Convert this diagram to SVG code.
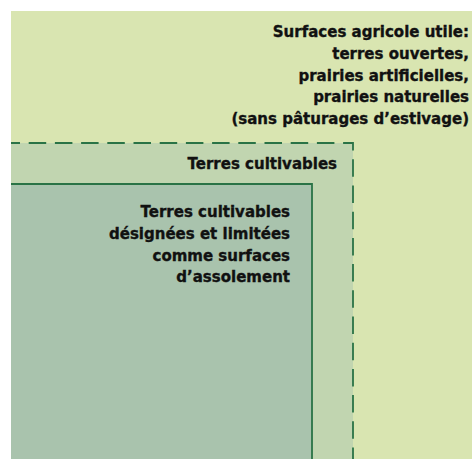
<svg xmlns="http://www.w3.org/2000/svg" width="472" height="459" viewBox="0 0 472 459">
<style>
text{font-family:"DejaVu Sans","Liberation Sans",sans-serif;font-weight:bold;font-size:15px;fill:#111111;stroke:#111111;stroke-width:0.35;text-anchor:end}
.ln{fill:none;stroke:#2a7346;stroke-width:1.8}
</style>
<rect width="472" height="459" fill="#ffffff"/>
<g id="sau">
<rect x="11" y="11" width="461" height="448" fill="#d9e5b1"/>
<text x="469" y="37">Surfaces agricole utile:</text>
<text x="469" y="59">terres ouvertes,</text>
<text x="469" y="80.5">prairies artificielles,</text>
<text x="469" y="102">prairies naturelles</text>
<text x="469" y="123.5">(sans pâturages d’estivage)</text>
</g>
<g id="terres-cultivables">
<rect x="11" y="143" width="342" height="316" fill="#c1d5b0"/>
<text x="337" y="169">Terres cultivables</text>
</g>
<g id="sda">
<rect x="11" y="184" width="301" height="275" fill="#a9c3ad"/>
<text x="290" y="217">Terres cultivables</text>
<text x="290" y="239">désignées et limitées</text>
<text x="290" y="260.5">comme surfaces</text>
<text x="290" y="282">d’assolement</text>
</g>
<g id="connectors">
<path class="ln" d="M11 143H353V459" stroke-dasharray="17.5 8.7" stroke-dashoffset="8.5"/>
<path class="ln" d="M11 184H312V459"/>
</g>
</svg>
